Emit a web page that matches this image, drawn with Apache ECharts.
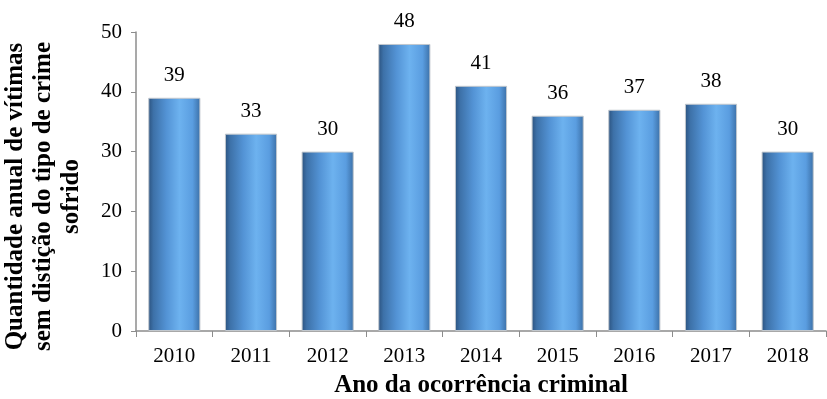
<!DOCTYPE html>
<html>
<head>
<meta charset="utf-8">
<script src="https://cdn.jsdelivr.net/npm/echarts@6/dist/echarts.min.js"></script>
<style>
  html, body { margin: 0; padding: 0; background: #fff; }
  #chart { width: 827px; height: 399px; }
</style>
</head>
<body>
<div id="chart"></div>
<script>
// Annual victims with no crime-type distinction, by year
const years = ['2010', '2011', '2012', '2013', '2014', '2015', '2016', '2017', '2018'];
const victims = [39, 33, 30, 48, 41, 36, 37, 38, 30];
const yTicks = [0, 10, 20, 30, 40, 50];

const FONT = '"Liberation Serif", "DejaVu Serif", serif';

// Cylinder-like shading across each bar
const barFill = new echarts.graphic.LinearGradient(0, 0, 1, 0, [
  { offset: 0, color: '#2b527e' },
  { offset: 0.1, color: '#3d71a8' },
  { offset: 0.35, color: '#5393d5' },
  { offset: 0.6, color: '#6db2ef' },
  { offset: 0.85, color: '#5a9de0' },
  { offset: 1, color: '#3b6fa6' }
]);

const chart = echarts.init(document.getElementById('chart'));
chart.setOption({
  animation: false,
  grid: { left: 136, right: 1, top: 32, bottom: 68, containLabel: false, outerBoundsMode: 'none' },
  xAxis: {
    type: 'category',
    data: years,
    name: 'Ano da ocorrência criminal',
    nameLocation: 'middle',
    nameGap: 42,
    nameTextStyle: { fontFamily: FONT, fontSize: 25, fontWeight: 'bold', color: '#000' },
    axisLine: { lineStyle: { color: '#8c8c8c', width: 1.5 } },
    axisTick: { show: true, length: 6, lineStyle: { color: '#8c8c8c' } },
    axisLabel: { fontFamily: FONT, fontSize: 21, color: '#000', margin: 15 }
  },
  yAxis: {
    type: 'value',
    min: yTicks[0],
    max: yTicks[yTicks.length - 1],
    interval: 10,
    name: 'Quantidade anual de vítimas\nsem distição do tipo de crime\nsofrido',
    nameLocation: 'middle',
    nameRotate: 90,
    nameGap: 50,
    nameTextStyle: {
      fontFamily: FONT, fontSize: 25, fontWeight: 'bold', color: '#000',
      lineHeight: 28, align: 'center', padding: [0, 30, 0, 0]
    },
    axisLine: { show: true, lineStyle: { color: '#8c8c8c', width: 1.5 } },
    axisTick: { show: true, length: 5, lineStyle: { color: '#8c8c8c' } },
    axisLabel: { fontFamily: FONT, fontSize: 21, color: '#000', margin: 14 },
    splitLine: { show: false }
  },
  series: [{
    type: 'bar',
    data: victims,
    barWidth: '68%',
    itemStyle: { color: barFill, borderColor: '#c2c8ce', borderWidth: 1 },
    label: {
      show: true,
      position: 'top',
      distance: 12,
      fontFamily: FONT,
      fontSize: 21,
      color: '#000'
    }
  }]
});
</script>
</body>
</html>
